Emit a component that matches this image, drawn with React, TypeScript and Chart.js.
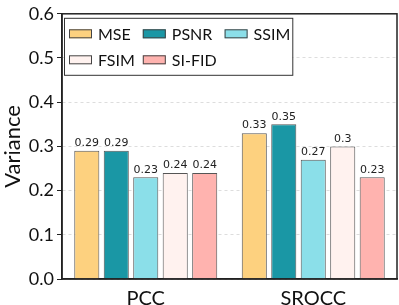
import React, { useEffect, useRef } from "react";
import { Chart, registerables } from "chart.js";

Chart.register(...registerables);

const categories = ["PCC", "SROCC"];
const seriesNames = ["MSE", "PSNR", "SSIM", "FSIM", "SI-FID"];
const mseValues = [0.29, 0.33];
const psnrValues = [0.29, 0.35];
const ssimValues = [0.23, 0.27];
const fsimValues = [0.24, 0.3];
const sifidValues = [0.24, 0.23];
const seriesColors = ["#FDD17F", "#1A97A5", "#8BDFE9", "#FFF2EF", "#FFB3AF"];
const yTicks = [0, 0.1, 0.2, 0.3, 0.4, 0.5, 0.6];

const FONT = "Lato, 'Open Sans', sans-serif";

const valueLabelPlugin = {
  id: "valueLabels",
  afterDatasetsDraw(chart: any) {
    const ctx = chart.ctx;
    ctx.save();
    ctx.font = "11px 'DejaVu Sans'";
    ctx.fillStyle = "#222";
    ctx.textAlign = "center";
    ctx.textBaseline = "bottom";
    chart.data.datasets.forEach((ds: any, di: number) => {
      const meta = chart.getDatasetMeta(di);
      meta.data.forEach((bar: any, i: number) => {
        ctx.fillText(String(ds.data[i]), bar.x, bar.y - 2);
      });
    });
    ctx.restore();
  },
};

const framePlugin = {
  id: "frame",
  afterDraw(chart: any) {
    const { ctx, chartArea } = chart;
    ctx.save();
    ctx.strokeStyle = "#222";
    ctx.lineWidth = 1.5;
    ctx.strokeRect(chartArea.left, chartArea.top, chartArea.right - chartArea.left, chartArea.bottom - chartArea.top);
    ctx.restore();
  },
};

const legendPlugin = {
  id: "boxLegend",
  afterDraw(chart: any) {
    const { ctx, chartArea } = chart;
    const ds = chart.data.datasets;
    const ncol = 3;
    const swW = 23, swH = 9, gap = 6, colGap = 8;
    const rowH = 26;
    ctx.save();
    ctx.font = `16px ${FONT}`;
    const nrows = Math.ceil(ds.length / ncol);
    const colWidths: number[] = [];
    for (let c = 0; c < ncol; c++) {
      let m = 0;
      for (let r = 0; r < nrows; r++) {
        const idx = r * ncol + c;
        if (idx < ds.length) m = Math.max(m, ctx.measureText(ds[idx].label).width);
      }
      colWidths.push(m);
    }
    const boxX = chartArea.left + 2;
    const boxY = chartArea.top + 4;
    const padX = 5, padY = 3;
    let totalW = padX;
    colWidths.forEach((w, c) => {
      totalW += swW + gap + w + (c < ncol - 1 ? colGap : 0);
    });
    totalW += 2;
    const totalH = padY * 2 + rowH * nrows - 1;
    ctx.fillStyle = "#fff";
    ctx.fillRect(boxX, boxY, totalW, totalH);
    ctx.strokeStyle = "#333";
    ctx.lineWidth = 1;
    ctx.strokeRect(boxX + 0.5, boxY + 0.5, totalW, totalH);
    ctx.textBaseline = "middle";
    ctx.textAlign = "left";
    for (let r = 0; r < nrows; r++) {
      let x = boxX + padX;
      const cy = boxY + padY + rowH * r + rowH / 2;
      for (let c = 0; c < ncol; c++) {
        const idx = r * ncol + c;
        if (idx < ds.length) {
          ctx.fillStyle = ds[idx].backgroundColor;
          ctx.fillRect(x, cy - swH / 2, swW, swH);
          ctx.strokeStyle = "#444";
          ctx.strokeRect(x + 0.5, cy - swH / 2 + 0.5, swW - 1, swH - 1);
          ctx.fillStyle = "#111";
          ctx.fillText(ds[idx].label, x + swW + gap, cy + 1);
        }
        x += swW + gap + colWidths[c] + colGap;
      }
    }
    ctx.restore();
  },
};

export default function App() {
  const ref = useRef<HTMLCanvasElement>(null);
  useEffect(() => {
    document.body.style.margin = "0";
    const allValues = [mseValues, psnrValues, ssimValues, fsimValues, sifidValues];
    const chart = new Chart(ref.current!, {
      type: "bar",
      data: {
        labels: categories,
        datasets: seriesNames.map((name, i) => ({
          label: name,
          data: allValues[i],
          backgroundColor: seriesColors[i],
          borderColor: "#555",
          borderWidth: 1,
          categoryPercentage: 0.88,
          barPercentage: 0.85,
        })),
      },
      options: {
        responsive: false,
        animation: false,
        layout: { padding: { top: 8, right: 2, left: 0, bottom: 0 } },
        plugins: {
          legend: { display: false },
          tooltip: { enabled: false },
        },
        scales: {
          x: {
            grid: { display: false },
            border: { display: true, color: "#222", width: 1.5 },
            ticks: { color: "#111", font: { family: FONT, size: 20 }, padding: 0 },
            afterFit: (s: any) => { s.height = 26; },
          },
          y: {
            min: 0,
            max: 0.6,
            afterBuildTicks: (s: any) => { s.ticks = yTicks.map((v) => ({ value: v })); },
            ticks: {
              color: "#111",
              font: { family: FONT, size: 18 },
              padding: 3,
              callback: (v: any) => Number(v).toFixed(1),
            },
            grid: {
              color: "#ddd",
              tickColor: "#222",
              tickLength: 5,
              tickBorderDash: [],
            },
            border: { display: true, color: "#222", width: 1.5, dash: [3, 3] },
            title: {
              display: true,
              text: "Variance",
              color: "#111",
              font: { family: FONT, size: 22 },
              padding: 0,
            },
            afterFit: (s: any) => { s.width = 62; },
          },
        },
      },
      plugins: [valueLabelPlugin, framePlugin, legendPlugin],
    });
    return () => chart.destroy();
  }, []);
  return <canvas ref={ref} width={399} height={305} />;
}
